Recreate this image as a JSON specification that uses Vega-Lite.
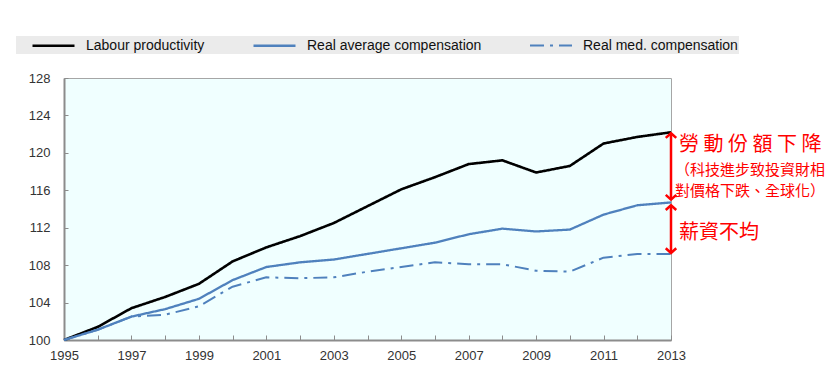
{
  "$schema": "https://vega.github.io/schema/vega-lite/v6.json",
  "width": 607,
  "height": 262,
  "autosize": {"type": "none"},
  "padding": {"left": 64, "top": 78, "right": 157, "bottom": 46},
  "background": "white",
  "config": {
    "font": "Liberation Sans",
    "view": {"fill": "#f0ffff", "stroke": "#a6a6a6", "strokeWidth": 1},
    "axis": {
      "grid": false,
      "title": null,
      "domainColor": "#8c8c8c",
      "domainWidth": 2,
      "tickColor": "#8c8c8c",
      "tickWidth": 1,
      "labelFont": "Liberation Sans",
      "labelFontSize": 13,
      "labelColor": "#333333",
      "labelOverlap": false,
      "labelBound": false,
      "labelFlush": false
    },
    "legend": {
      "orient": "none",
      "legendX": -48,
      "legendY": -42,
      "direction": "horizontal",
      "fillColor": "#ebebeb",
      "padding": 1,
      "labelFont": "Liberation Sans",
      "labelFontSize": 14,
      "labelColor": "#111111",
      "labelLimit": 400,
      "symbolType": "M-3,0H3",
      "symbolSize": 196,
      "symbolOffset": 28,
      "labelOffset": 24,
      "columnPadding": 33
    }
  },
  "data": {
    "values": [
      {"year": 1995, "series": "Labour productivity", "value": 100.0},
      {"year": 1996, "series": "Labour productivity", "value": 101.4},
      {"year": 1997, "series": "Labour productivity", "value": 103.4},
      {"year": 1998, "series": "Labour productivity", "value": 104.6},
      {"year": 1999, "series": "Labour productivity", "value": 106.0},
      {"year": 2000, "series": "Labour productivity", "value": 108.4},
      {"year": 2001, "series": "Labour productivity", "value": 109.9},
      {"year": 2002, "series": "Labour productivity", "value": 111.1},
      {"year": 2003, "series": "Labour productivity", "value": 112.5},
      {"year": 2004, "series": "Labour productivity", "value": 114.3},
      {"year": 2005, "series": "Labour productivity", "value": 116.1},
      {"year": 2006, "series": "Labour productivity", "value": 117.4},
      {"year": 2007, "series": "Labour productivity", "value": 118.8},
      {"year": 2008, "series": "Labour productivity", "value": 119.2},
      {"year": 2009, "series": "Labour productivity", "value": 117.9},
      {"year": 2010, "series": "Labour productivity", "value": 118.6},
      {"year": 2011, "series": "Labour productivity", "value": 121.0},
      {"year": 2012, "series": "Labour productivity", "value": 121.7},
      {"year": 2013, "series": "Labour productivity", "value": 122.2},
      {"year": 1995, "series": "Real average compensation", "value": 100.0},
      {"year": 1996, "series": "Real average compensation", "value": 101.1},
      {"year": 1997, "series": "Real average compensation", "value": 102.5},
      {"year": 1998, "series": "Real average compensation", "value": 103.3},
      {"year": 1999, "series": "Real average compensation", "value": 104.4},
      {"year": 2000, "series": "Real average compensation", "value": 106.4},
      {"year": 2001, "series": "Real average compensation", "value": 107.8},
      {"year": 2002, "series": "Real average compensation", "value": 108.3},
      {"year": 2003, "series": "Real average compensation", "value": 108.6},
      {"year": 2004, "series": "Real average compensation", "value": 109.2},
      {"year": 2005, "series": "Real average compensation", "value": 109.8},
      {"year": 2006, "series": "Real average compensation", "value": 110.4},
      {"year": 2007, "series": "Real average compensation", "value": 111.3},
      {"year": 2008, "series": "Real average compensation", "value": 111.9},
      {"year": 2009, "series": "Real average compensation", "value": 111.6},
      {"year": 2010, "series": "Real average compensation", "value": 111.8},
      {"year": 2011, "series": "Real average compensation", "value": 113.4},
      {"year": 2012, "series": "Real average compensation", "value": 114.4},
      {"year": 2013, "series": "Real average compensation", "value": 114.7},
      {"year": 1995, "series": "Real med. compensation", "value": 100.0},
      {"year": 1996, "series": "Real med. compensation", "value": 101.1},
      {"year": 1997, "series": "Real med. compensation", "value": 102.5},
      {"year": 1998, "series": "Real med. compensation", "value": 102.7},
      {"year": 1999, "series": "Real med. compensation", "value": 103.6},
      {"year": 2000, "series": "Real med. compensation", "value": 105.7},
      {"year": 2001, "series": "Real med. compensation", "value": 106.7},
      {"year": 2002, "series": "Real med. compensation", "value": 106.6},
      {"year": 2003, "series": "Real med. compensation", "value": 106.7},
      {"year": 2004, "series": "Real med. compensation", "value": 107.3},
      {"year": 2005, "series": "Real med. compensation", "value": 107.8},
      {"year": 2006, "series": "Real med. compensation", "value": 108.3},
      {"year": 2007, "series": "Real med. compensation", "value": 108.1},
      {"year": 2008, "series": "Real med. compensation", "value": 108.1},
      {"year": 2009, "series": "Real med. compensation", "value": 107.4},
      {"year": 2010, "series": "Real med. compensation", "value": 107.3},
      {"year": 2011, "series": "Real med. compensation", "value": 108.8},
      {"year": 2012, "series": "Real med. compensation", "value": 109.2},
      {"year": 2013, "series": "Real med. compensation", "value": 109.2}
    ]
  },
  "encoding": {
    "x": {
      "field": "year",
      "type": "quantitative",
      "scale": {"domain": [1995, 2013], "nice": false, "zero": false},
      "axis": {
        "values": [1995, 1996, 1997, 1998, 1999, 2000, 2001, 2002, 2003, 2004, 2005, 2006, 2007, 2008, 2009, 2010, 2011, 2012, 2013],
        "format": "d",
        "labelExpr": "datum.value % 2 == 1 ? datum.label : ''",
        "labelOverlap": false,
        "tickSize": -5,
        "labelPadding": 14
      }
    },
    "y": {
      "field": "value",
      "type": "quantitative",
      "scale": {"domain": [100, 128], "nice": false, "zero": false},
      "axis": {
        "values": [100, 104, 108, 112, 116, 120, 124, 128],
        "format": "d",
        "labelOverlap": false,
        "tickSize": -4,
        "labelPadding": 18
      }
    }
  },
  "layer": [
    {
      "mark": {"type": "line", "strokeJoin": "round", "strokeCap": "butt"},
      "encoding": {
        "color": {
          "field": "series",
          "type": "nominal",
          "title": null,
          "scale": {
            "domain": ["Labour productivity", "Real average compensation", "Real med. compensation"],
            "range": ["#000000", "#4f81bd", "#4f81bd"]
          }
        },
        "strokeDash": {
          "field": "series",
          "type": "nominal",
          "title": null,
          "scale": {
            "domain": ["Labour productivity", "Real average compensation", "Real med. compensation"],
            "range": [[1, 0], [1, 0], [14, 6, 3, 6]]
          }
        },
        "strokeWidth": {
          "field": "series",
          "type": "nominal",
          "title": null,
          "scale": {
            "domain": ["Labour productivity", "Real average compensation", "Real med. compensation"],
            "range": [2.6, 2, 2]
          }
        }
      }
    },
    {
      "data": {
        "values": [
          {"year": 2013, "value": 122.1, "value2": 115.0},
          {"year": 2013, "value": 114.4, "value2": 109.3}
        ]
      },
      "mark": {"type": "rule", "color": "#ff0000", "strokeWidth": 2.5},
      "encoding": {
        "y2": {"field": "value2"}
      }
    },
    {
      "data": {
        "values": [
          {"year": 2013, "value": 122.1, "dir": "up"},
          {"year": 2013, "value": 115.0, "dir": "down"},
          {"year": 2013, "value": 114.4, "dir": "up"},
          {"year": 2013, "value": 109.3, "dir": "down"}
        ]
      },
      "mark": {"type": "point", "filled": false, "color": "#ff0000", "strokeWidth": 2.5, "size": 110, "opacity": 1, "strokeJoin": "miter"},
      "encoding": {
        "shape": {
          "field": "dir",
          "type": "nominal",
          "legend": null,
          "scale": {"domain": ["up", "down"], "range": ["M-1,0.9L0,0L1,0.9", "M-1,-0.9L0,0L1,-0.9"]}
        }
      }
    },
    {
      "data": {
        "values": [
          {"year": 2013, "value": 120.85, "label": "勞 動 份 額 下 降"},
          {"year": 2013, "value": 111.4, "label": "薪資不均"}
        ]
      },
      "mark": {"type": "text", "align": "left", "baseline": "middle", "dx": 8, "font": "Noto Sans CJK TC", "fontSize": 20, "color": "#ff0000"},
      "encoding": {
        "text": {"field": "label"}
      }
    },
    {
      "data": {
        "values": [
          {"year": 2013, "value": 118.15, "label": "（科技進步致投資財相"},
          {"year": 2013, "value": 115.95, "label": "對價格下跌、全球化）"}
        ]
      },
      "mark": {"type": "text", "align": "left", "baseline": "middle", "dx": 4, "font": "Noto Sans CJK TC", "fontSize": 15, "color": "#ff0000"},
      "encoding": {
        "text": {"field": "label"}
      }
    }
  ]
}
